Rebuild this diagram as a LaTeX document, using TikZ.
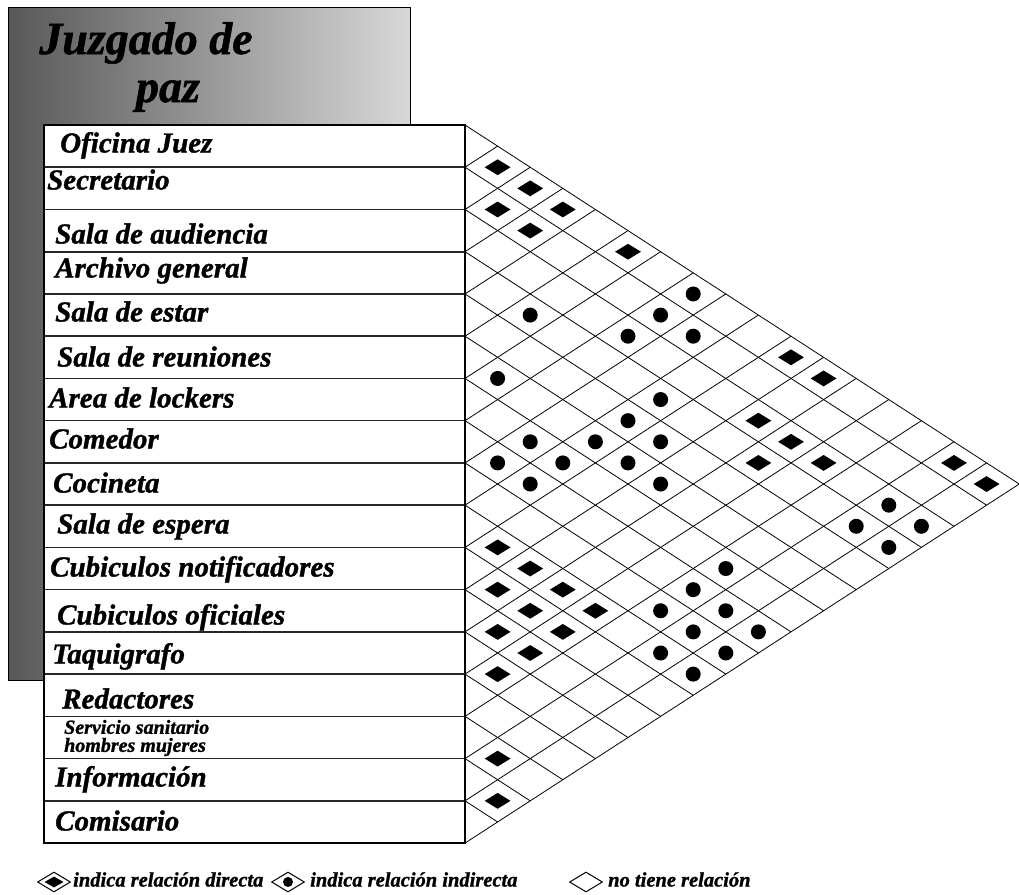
\documentclass[tikz,border=0pt]{standalone}
\usepackage{fontspec}
\setmainfont{Liberation Serif}[BoldItalicFeatures={FakeBold=1.2}]
\usetikzlibrary{shapes.geometric}
\definecolor{cajaoscura}{RGB}{88, 88, 88}
\definecolor{cajaclara}{RGB}{216, 216, 216}

\begin{document}
\begin{tikzpicture}[x=1pt, y=-1pt,
    titulo/.style={anchor=base, inner sep=0pt, font=\fontsize{46}{50}\selectfont\bfseries\itshape},
    etiqueta/.style={anchor=west, inner sep=0pt, text height=19pt, text depth=0pt, font=\fontsize{29}{31}\selectfont\bfseries\itshape},
    leyenda/.style={anchor=west, inner sep=0pt, text height=9pt, text depth=0pt, font=\fontsize{20.5}{22}\selectfont\bfseries\itshape},
    directa/.style={diamond, fill=black, minimum width=26pt, minimum height=16pt, inner sep=0pt},
    indirecta/.style={circle, fill=black, minimum size=15pt, inner sep=0pt},
    simbolo/.style={diamond, draw=black, line width=1pt, minimum width=33pt, minimum height=20pt, inner sep=0pt}]

    \def\rh{42.24}
    \def\cw{32.6}

    \useasboundingbox (0,0) rectangle (1019,894);

    \shadedraw[left color=cajaoscura, right color=cajaclara, draw=black, line width=1pt] (8,7) rectangle (410,680);
    \node[titulo] (tit1) at (146,54) {Juzgado de};
    \node[titulo] (tit2) at (168,102) {paz};

    \fill[white] (44,125) rectangle (465,843);
    \foreach \k in {1,...,16} {
        \draw[line width=1.6pt, black!85] (44,{125+\k*\rh}) -- (465,{125+\k*\rh});
    }
    \draw[line width=1.2pt] (44,125) rectangle (465,843);

    \foreach \k in {0,...,17} {
        \draw[line width=0.8pt] (465,{125+\k*\rh}) -- ++({(17-\k)*\cw},{(17-\k)*\rh/2});
        \draw[line width=0.8pt] (465,{125+\k*\rh}) -- ++({\k*\cw},{-\k*\rh/2});
    }

    \foreach \n/\x/\y/\txt in {1/60/143/Oficina Juez, 2/47/180/Secretario, 3/55/234/Sala de audiencia,
        4/55/268/Archivo general, 5/55/312/Sala de estar, 6/57/357/Sala de reuniones,
        7/49/398/Area de lockers, 8/49/439/Comedor, 9/53/483/Cocineta,
        10/57/524/Sala de espera, 11/50/567/Cubiculos notificadores, 12/57/615/Cubiculos oficiales,
        13/52/654/Taquigrafo, 14/62/699/Redactores, 16/55/777/Información, 17/55/821/Comisario} {
        \node[etiqueta] (r\n) at (\x,\y) {\txt};
    }
    \node[anchor=west, inner sep=0pt, align=left, font=\fontsize{20}{18}\selectfont\bfseries\itshape] (r15) at (64,738) {Servicio sanitario\\hombres mujeres};

    \foreach \i/\j in {1/2, 1/3, 2/3, 1/4, 2/4, 1/6, 1/11, 1/12, 3/12, 3/13, 4/13, 3/14, 1/16, 1/17,
        10/11, 10/12, 11/12, 10/13, 11/13, 10/14, 12/13, 11/14, 12/14, 13/14, 15/16, 16/17} {
        \node[directa] (d\i-\j) at ({465+(\j-\i)*\cw},{125+(\i+\j-1)*\rh/2}) {};
    }
    \foreach \i/\j in {1/8, 2/8, 3/8, 2/9, 4/6, 6/7, 4/10, 5/10, 6/10, 7/9, 5/11, 8/9, 7/10, 6/11, 8/10,
        6/12, 3/16, 4/16, 3/17, 4/17, 7/15, 8/15, 9/15, 8/16, 9/16, 8/17, 10/16, 9/17, 10/17} {
        \node[indirecta] (c\i-\j) at ({465+(\j-\i)*\cw},{125+(\i+\j-1)*\rh/2}) {};
    }

    \node[simbolo] (ley1) at (54,882) {};
    \node[directa, minimum width=19pt, minimum height=11pt] (ley1m) at (ley1) {};
    \node[leyenda] (tley1) at (73,882) {indica relación directa};
    \node[simbolo] (ley2) at (288,882) {};
    \node[indirecta, minimum size=10pt] (ley2m) at (ley2) {};
    \node[leyenda] (tley2) at (310,882) {indica relación indirecta};
    \node[simbolo] (ley3) at (586,882) {};
    \node[leyenda] (tley3) at (608,882) {no tiene relación};

\end{tikzpicture}
\end{document}
